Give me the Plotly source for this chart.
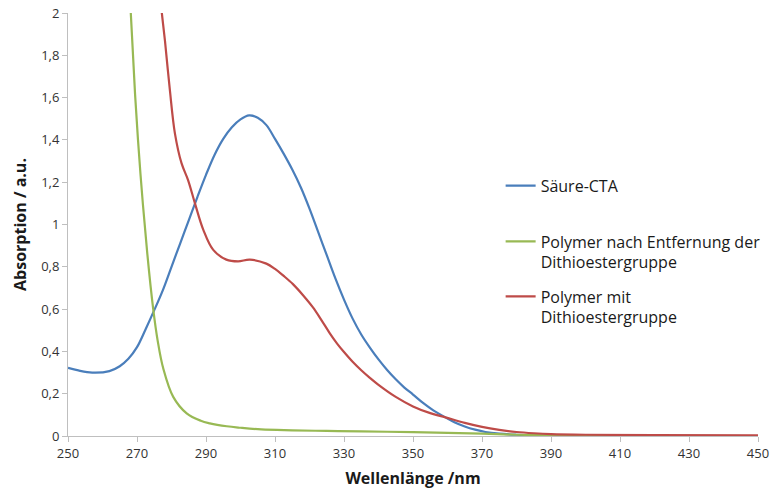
import plotly.graph_objects as go

# Wavelength (nm) and absorption values
blue_x = [250, 253, 257, 262, 265, 267.5, 270, 272.5, 275, 277.5, 280, 282.5, 285, 287.5, 290, 292.5,
          295, 297.5, 300, 302.5, 305, 307.5, 310, 312.5, 315, 317.5, 320, 322.5, 325, 327.5,
          330, 332.5, 335, 337.5, 340, 342.5, 345, 347.5, 350, 353, 356, 359.4, 362, 365, 368,
          371, 375, 380, 385, 390, 400, 450]
blue_y = [0.322, 0.31, 0.30, 0.307, 0.33, 0.365, 0.42, 0.505, 0.595, 0.69, 0.80, 0.91, 1.02, 1.13, 1.235, 1.33,
          1.405, 1.46, 1.497, 1.516, 1.505, 1.47, 1.405, 1.335, 1.26, 1.175, 1.075, 0.965, 0.855, 0.745,
          0.645, 0.555, 0.48, 0.418, 0.362, 0.312, 0.268, 0.229, 0.196, 0.155, 0.12, 0.088, 0.065, 0.045, 0.03,
          0.019, 0.011, 0.006, 0.003, 0.0015, 0.0005, 0.0]

green_x = [267.0, 268.2, 269.5, 271, 273, 274.7, 276, 277.6, 280.5, 284.4, 288.5, 291.1, 296, 300,
           306, 315, 325, 335, 350, 360, 370, 380, 390, 400, 450]
green_y = [2.5, 2.0, 1.6, 1.24, 0.86, 0.60, 0.45, 0.32, 0.185, 0.107, 0.072, 0.060, 0.046, 0.039,
           0.031, 0.027, 0.024, 0.022, 0.018, 0.015, 0.011, 0.006, 0.003, 0.001, 0.0]

red_x = [276.3, 277.2, 278.1, 279.5, 281, 282.9, 284.8, 286.8, 289.2, 292.1, 295.9, 299.3,
         302.7, 307.5, 310, 312.5, 315.2, 318, 321, 323.5, 325.8, 328, 330, 332.5, 335, 337.5, 340,
         345, 350, 355, 359.4, 365, 370, 375, 380, 385, 390, 400, 420, 450]
red_y = [2.15, 2.0, 1.87, 1.64, 1.43, 1.29, 1.21, 1.10, 0.976, 0.88, 0.834, 0.826,
         0.834, 0.815, 0.79, 0.757, 0.718, 0.668, 0.608, 0.547, 0.488, 0.437, 0.397, 0.351, 0.311, 0.275, 0.242,
         0.185, 0.14, 0.108, 0.088, 0.062, 0.043, 0.029, 0.019, 0.013, 0.009, 0.006, 0.004, 0.003]

names = ["Säure-CTA", "Polymer nach Entfernung der<br>Dithioestergruppe", "Polymer mit<br>Dithioestergruppe"]

FONT = "'Open Sans', Lato, sans-serif"
fig = go.Figure()
fig.add_trace(go.Scatter(x=blue_x, y=blue_y, mode="lines", name=names[0],
                         line=dict(color="#4a7ebb", width=2.2, shape="spline", smoothing=1.0),
                         legend="legend", showlegend=True))
fig.add_trace(go.Scatter(x=green_x, y=green_y, mode="lines", name=names[1],
                         line=dict(color="#98b954", width=2.2, shape="spline", smoothing=1.0),
                         legend="legend2", showlegend=True))
fig.add_trace(go.Scatter(x=red_x, y=red_y, mode="lines", name=names[2],
                         line=dict(color="#be4b48", width=2.2, shape="spline", smoothing=1.0),
                         legend="legend3", showlegend=True))

leg_common = dict(x=0.627, xanchor="left", yanchor="top", bgcolor="rgba(0,0,0,0)",
                  font=dict(family=FONT, size=16, color="#1a1a1a"), valign="top",
                  itemwidth=30, tracegroupgap=0, visible=True)

fig.update_layout(
    width=774, height=495,
    margin=dict(l=68, r=16, t=13, b=59, autoexpand=False),
    paper_bgcolor="white", plot_bgcolor="white",
    separators=", ",
    showlegend=True,
    font=dict(family=FONT, color="#333333"),
    legend=dict(y=0.632, **leg_common),
    legend2=dict(y=0.50, **leg_common),
    legend3=dict(y=0.37, **leg_common),
    xaxis=dict(range=[250, 450], tick0=250, dtick=20, showgrid=False, zeroline=False,
               showline=True, linecolor="#bfbfbf", linewidth=1, automargin=False,
               ticks="outside", ticklen=5, tickcolor="#bfbfbf", ticklabeloverflow="allow",
               tickfont=dict(family=FONT, size=13, color="#333333"),
               title=dict(text="<b>Wellenlänge /nm</b>", font=dict(family=FONT, size=16, color="#1a1a1a"),
                          standoff=12)),
    yaxis=dict(range=[0, 2.0001], tick0=0, dtick=0.2, showgrid=False, zeroline=False,
               showline=True, linecolor="#bfbfbf", linewidth=1, automargin=False,
               ticks="outside", ticklen=5, tickcolor="#bfbfbf", ticklabeloverflow="allow",
               tickfont=dict(family=FONT, size=13, color="#333333"),
               title=dict(text="<b>Absorption / a.u.</b>", font=dict(family=FONT, size=16, color="#1a1a1a"),
                          standoff=10)),
)

# Remove the browser's default 8px body margin so the figure fills the 774x495 window exactly.
fig.write_html("out.html", config={"displayModeBar": False},
               post_script="document.body.style.margin='0px';")
